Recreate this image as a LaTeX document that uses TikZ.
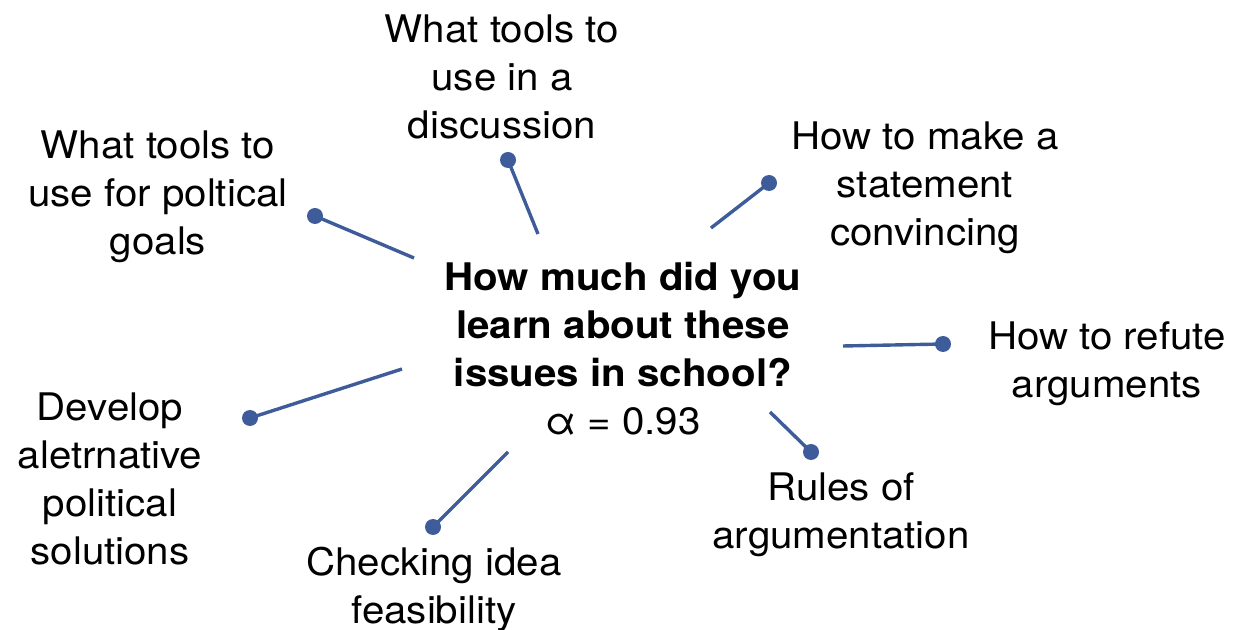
\documentclass[tikz,border=0pt]{standalone}
\usepackage{fontspec}
\setmainfont{TeX Gyre Heros}[FakeStretch=1.06]
\usepackage{xcolor}
\definecolor{spokeblue}{HTML}{3E5C9A}
\usetikzlibrary{calc}

\begin{document}
\begin{tikzpicture}[x=0.5pt, y=-0.5pt,
    item/.style={align=center, font=\fontsize{19}{24}\selectfont, inner sep=0pt},
    dot/.style={circle, fill=spokeblue, inner sep=0pt, minimum size=8pt},
    spoke/.style={spokeblue, line width=1.7pt}]
  \useasboundingbox (0,0) rectangle (1253,630);

  \node[item] (question) at (623,349) {\textbf{How much did you}\\ \textbf{learn about these}\\ \textbf{issues in school?}\\ α = 0.93};

  \node[item] (goals) at (158,197) {What tools to\\ use for poltical\\ goals};
  \node[item] (discussion) at (502,77) {What tools to\\ use in a\\ discussion};
  \node[item] (statement) at (925,188) {How to make a\\ statement\\ convincing};
  \node[item] (refute) at (1107,364) {How to refute\\ arguments};
  \node[item] (rules) at (841,515) {Rules of\\ argumentation};
  \node[item] (feasibility) at (434,589) {Checking idea\\ feasibility};
  \node[item] (solutions) at (110,479) {Develop\\ aletrnative\\ political\\ solutions};

  \foreach \name/\dx/\dy/\ix/\iy in {goals/315/216/414/258, discussion/508/160/538/234,
      statement/769/183/711/228, refute/943/344/843/346, rules/811/452/770/412,
      feasibility/433/527/508/452, solutions/250/418/402/369}
  {
    \coordinate (\name-end) at (\ix,\iy);
    \node[dot] (\name-dot) at (\dx,\dy) {};
    \draw[spoke] (\name-end) -- (\name-dot.center);
  }
\end{tikzpicture}
\end{document}
